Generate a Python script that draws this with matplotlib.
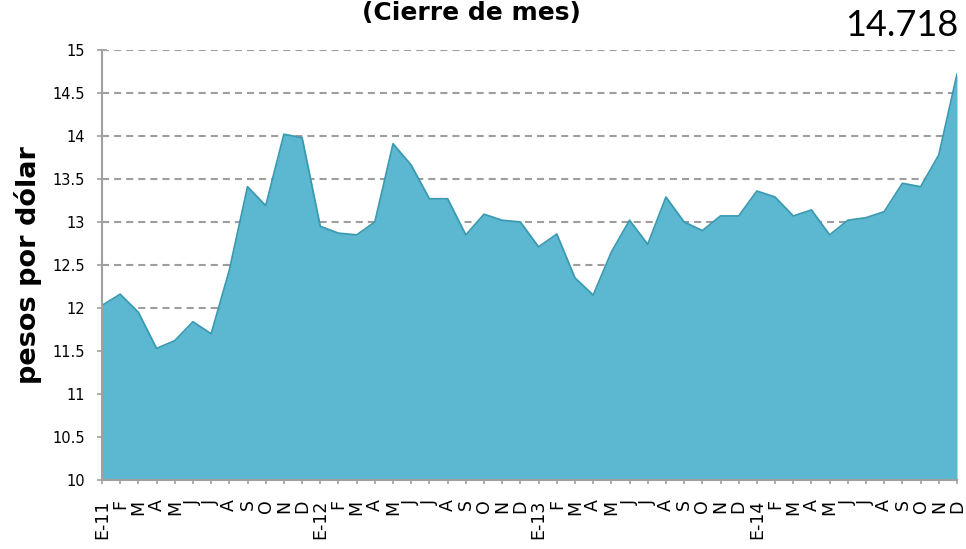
import matplotlib
matplotlib.use("Agg")
import matplotlib.pyplot as plt
import numpy as np

months = ["E-11", "F", "M", "A", "M", "J", "J", "A", "S", "O", "N", "D",
          "E-12", "F", "M", "A", "M", "J", "J", "A", "S", "O", "N", "D",
          "E-13", "F", "M", "A", "M", "J", "J", "A", "S", "O", "N", "D",
          "E-14", "F", "M", "A", "M", "J", "J", "A", "S", "O", "N", "D"]
values = [12.03, 12.16, 11.95, 11.53, 11.62, 11.84, 11.70, 12.44, 13.41, 13.19, 14.02, 13.98,
          12.95, 12.87, 12.85, 13.00, 13.91, 13.66, 13.27, 13.27, 12.85, 13.09, 13.02, 13.00,
          12.71, 12.86, 12.35, 12.15, 12.65, 13.02, 12.74, 13.29, 13.00, 12.90, 13.07, 13.07,
          13.36, 13.29, 13.07, 13.14, 12.85, 13.02, 13.05, 13.12, 13.45, 13.41, 13.78, 14.718]
yticks = [10, 10.5, 11, 11.5, 12, 12.5, 13, 13.5, 14, 14.5, 15]
ytick_labels = ["10", "10.5", "11", "11.5", "12", "12.5", "13", "13.5", "14", "14.5", "15"]
title = "(Cierre de mes)"
last_label = "14.718"
ylabel = "pesos por dólar"

W, H = 966, 549
fig = plt.figure(figsize=(W / 100, H / 100), dpi=100)
ax = fig.add_axes([102 / W, 1 - 480 / H, (957 - 102) / W, (480 - 50) / H])

x = np.arange(len(values))
ax.fill_between(x, 10, values, color="#5BB8D0", zorder=3, linewidth=0)
ax.plot(x, values, color="#3A9AB2", linewidth=1.3, zorder=4)

ax.set_xlim(0, len(values) - 1)
ax.set_ylim(10, 15)
ax.set_yticks(yticks)
ax.set_yticklabels(ytick_labels, fontsize=10.5)
ax.set_xticks(x)
ax.set_xticklabels(months, rotation=90, fontsize=12.5, va="top", ha="center")

ax.yaxis.grid(True, color="#9E9E9E", linewidth=1.5, linestyle=(0, (3.4, 2.4)), zorder=1)
ax.set_axisbelow(True)
for s in ["top", "right"]:
    ax.spines[s].set_visible(False)
for s in ["left", "bottom"]:
    ax.spines[s].set_color("#A0A0A0")
    ax.spines[s].set_linewidth(1.5)
    ax.spines[s].set_zorder(5)
ax.tick_params(axis="y", direction="inout", length=6.5, width=1.2, colors="#A0A0A0",
               labelcolor="black", pad=9)
ax.tick_params(axis="x", direction="out", length=3, width=1.2, colors="#A0A0A0",
               labelcolor="black", pad=11)

ax.set_ylabel(ylabel, fontsize=19.5, fontweight="bold")
ax.yaxis.set_label_coords(-0.070, 0.5)

fig.text(0.5 * (355 + 588) / W, 1 - 1 / H, title, fontsize=18, fontweight="bold",
         ha="center", va="top")
fig.text(958 / W, 1 - 26 / H, last_label, fontsize=26, family="Lato",
         ha="right", va="center")

fig.savefig("out.png", dpi=100)
